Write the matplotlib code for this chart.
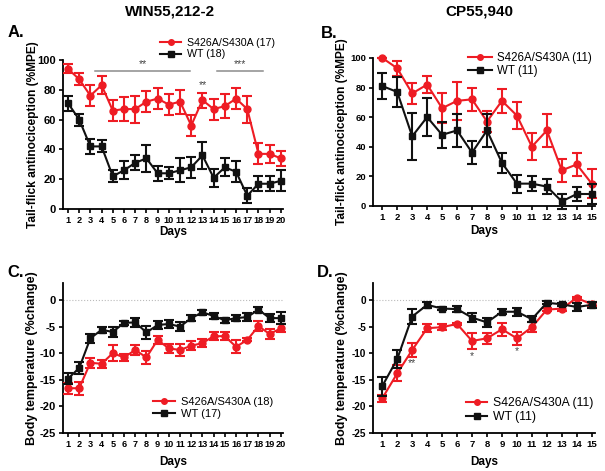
import numpy as np
import matplotlib
matplotlib.use("Agg")
import matplotlib.pyplot as plt
from matplotlib.lines import Line2D

plt.rcParams['font.family'] = ['Liberation Sans', 'DejaVu Sans']

RED = '#ee1c24'
BLACK = '#111111'

# ---- data ----
days20 = list(range(1, 21))
days15 = list(range(1, 16))

# A: WIN55,212-2 tail flick (%MPE)
a_mut = [94, 87, 76, 83, 66, 67, 67, 72, 74, 70, 72, 56, 73, 67, 69, 74, 67, 37, 37, 34]
a_mut_err = [3, 4, 7, 6, 7, 8, 9, 7, 7, 7, 8, 7, 5, 7, 8, 7, 9, 7, 6, 5]
a_wt = [71, 60, 42, 42, 22, 26, 31, 34, 24, 24, 26, 28, 36, 21, 28, 25, 9, 17, 17, 19]
a_wt_err = [5, 4, 5, 4, 4, 6, 5, 9, 5, 4, 8, 7, 9, 6, 6, 7, 5, 5, 5, 7]

# B: CP55,940 tail flick (%MPE)
b_mut = [100, 93, 76, 82, 66, 71, 72, 57, 71, 61, 40, 51, 24, 28, 15]
b_mut_err = [0, 5, 7, 6, 10, 13, 8, 7, 8, 9, 9, 11, 8, 8, 10]
b_wt = [81, 77, 47, 60, 48, 51, 36, 51, 29, 15, 15, 13, 3, 8, 8]
b_wt_err = [9, 10, 16, 13, 9, 11, 8, 11, 7, 6, 5, 5, 5, 5, 7]

# C: WIN55,212-2 body temperature (%change)
c_mut = [-16.6, -16.6, -11.8, -12.0, -10.0, -10.8, -9.4, -10.8, -7.5, -9.1,
         -9.4, -8.6, -8.1, -6.8, -6.8, -8.8, -7.5, -4.9, -6.4, -5.3]
c_mut_err = [1.0, 1.2, 0.9, 0.7, 1.5, 0.7, 0.9, 1.2, 0.8, 0.8,
             1.2, 0.8, 0.8, 0.7, 0.8, 1.2, 0.3, 1.0, 0.9, 0.7]
c_wt = [-14.8, -12.8, -7.2, -5.6, -6.0, -4.3, -4.2, -6.1, -4.7, -4.5,
        -5.0, -3.4, -2.3, -3.0, -3.8, -3.4, -3.2, -1.8, -3.4, -3.4]
c_wt_err = [1.0, 1.2, 0.8, 0.6, 1.0, 0.4, 0.8, 1.3, 0.8, 0.8,
            0.8, 0.6, 0.5, 0.5, 0.5, 0.6, 0.7, 0.5, 0.7, 1.2]

# D: CP55,940 body temperature (%change)
d_mut = [-18.5, -13.8, -9.4, -5.3, -5.1, -4.5, -7.7, -7.2, -5.5, -7.2,
         -5.1, -1.8, -1.6, 0.4, -0.8]
d_mut_err = [0.6, 1.5, 1.3, 0.8, 0.5, 0.2, 1.5, 1.0, 1.2, 1.2,
             0.9, 0.3, 0.5, 0.2, 0.4]
d_wt = [-16.2, -11.1, -3.1, -0.9, -1.6, -1.7, -3.3, -4.2, -2.2, -2.2,
        -3.6, -0.5, -0.8, -1.3, -0.9]
d_wt_err = [1.8, 1.7, 1.5, 0.5, 0.3, 0.5, 0.8, 0.8, 0.5, 0.8,
            0.6, 0.3, 0.3, 0.8, 0.5]


def draw_series(ax, x, mut, mut_err, wt, wt_err):
    ax.errorbar(x, mut, yerr=mut_err, color=RED, marker='o', ms=5,
                lw=1.5, elinewidth=1.5, capsize=3.5, capthick=1.5,
                clip_on=False, zorder=3)
    ax.errorbar(x, wt, yerr=wt_err, color=BLACK, marker='s', ms=5,
                lw=1.5, elinewidth=1.5, capsize=3.5, capthick=1.5,
                clip_on=False, zorder=4)


def add_legend(ax, labels, anchor, fs, hl=2.0):
    handles = [Line2D([], [], color=RED, marker='o', ms=4, lw=1.5),
               Line2D([], [], color=BLACK, marker='s', ms=4, lw=1.5)]
    ax.legend(handles, labels, loc='center left', bbox_to_anchor=anchor,
              frameon=False, fontsize=fs, handlelength=hl, handletextpad=0.5,
              labelspacing=0.15, borderpad=0, borderaxespad=0)


def style_axes(ax, days, xlim, ylim, yticks, xfs, yfs):
    ax.set_xlim(*xlim)
    ax.set_ylim(*ylim)
    ax.set_xticks(days)
    ax.set_xticklabels([str(d) for d in days], fontsize=xfs, fontweight='bold')
    ax.set_yticks(yticks)
    ax.set_yticklabels([str(t) for t in yticks], fontsize=yfs, fontweight='bold')
    for s in ['top', 'right']:
        ax.spines[s].set_visible(False)
    for s in ['left', 'bottom']:
        ax.spines[s].set_linewidth(1.3)
    ax.tick_params(width=1.2, length=3, pad=2)


fig = plt.figure(figsize=(6.05, 4.71), dpi=100)

axA = fig.add_axes([0.104, 0.556, 0.364, 0.317])
axB = fig.add_axes([0.617, 0.563, 0.366, 0.314])
axC = fig.add_axes([0.104, 0.081, 0.364, 0.318])
axD = fig.add_axes([0.617, 0.081, 0.366, 0.318])

# A
draw_series(axA, days20, a_mut, a_mut_err, a_wt, a_wt_err)
style_axes(axA, days20, (0.55, 20.2), (0, 100), [0, 20, 40, 60, 80, 100], 6.6, 8)
axA.plot([3.4, 11.9], [92.5, 92.5], color='#8c8c8c', lw=1.1)
axA.plot([14.3, 18.4], [92.5, 92.5], color='#8c8c8c', lw=1.1)
axA.text(7.65, 93.5, '**', ha='center', va='bottom', fontsize=7.5, color='#444444')
axA.text(16.35, 93.5, '***', ha='center', va='bottom', fontsize=7.5, color='#444444')
axA.text(13, 80, '**', ha='center', va='bottom', fontsize=7.5, color='#444444')
add_legend(axA, ['S426A/S430A (17)', 'WT (18)'], (0.44, 1.075), 7.7)
axA.set_ylabel('Tail-flick antinociception (%MPE)', fontsize=8.6, fontweight='bold')
axA.yaxis.set_label_coords(-0.108, 0.5)
axA.set_xlabel('Days', fontsize=8.5, fontweight='bold', labelpad=1)

# B
draw_series(axB, days15, b_mut, b_mut_err, b_wt, b_wt_err)
style_axes(axB, days15, (0.4, 15.2), (0, 100), [0, 20, 40, 60, 80, 100], 6.8, 6.8)
add_legend(axB, ['S426A/S430A (11)', 'WT (11)'], (0.43, 0.955), 8.3)
axB.set_ylabel('Tail-flick antinociception (%MPE)', fontsize=8.6, fontweight='bold')
axB.yaxis.set_label_coords(-0.112, 0.5)
axB.set_xlabel('Days', fontsize=8.5, fontweight='bold', labelpad=2)

# C
axC.axhline(0, color='#bbbbbb', lw=0.8, ls=':', zorder=1)
draw_series(axC, days20, c_mut, c_mut_err, c_wt, c_wt_err)
style_axes(axC, days20, (0.55, 20.2), (-25, 3.2), [-25, -20, -15, -10, -5, 0], 6.6, 8)
add_legend(axC, ['S426A/S430A (18)', 'WT (17)'], (0.41, 0.165), 8)
axC.set_ylabel('Body temperature (%change)', fontsize=9, fontweight='bold')
axC.yaxis.set_label_coords(-0.112, 0.5)
axC.set_xlabel('Days', fontsize=8.5, fontweight='bold', labelpad=5)

# D
axD.axhline(0, color='#bbbbbb', lw=0.8, ls=':', zorder=1)
draw_series(axD, days15, d_mut, d_mut_err, d_wt, d_wt_err)
style_axes(axD, days15, (0.4, 15.2), (-25, 3.2), [-25, -20, -15, -10, -5, 0], 6.8, 7.2)
axD.text(3, -12.8, '**', ha='center', va='bottom', fontsize=7.5, color='#444444')
axD.text(7, -11.4, '*', ha='center', va='bottom', fontsize=7.5, color='#444444')
axD.text(10, -10.6, '*', ha='center', va='bottom', fontsize=7.5, color='#444444')
add_legend(axD, ['S426A/S430A (11)', 'WT (11)'], (0.42, 0.15), 8.8, hl=1.7)
axD.set_ylabel('Body temperature (%change)', fontsize=9, fontweight='bold')
axD.yaxis.set_label_coords(-0.112, 0.5)
axD.set_xlabel('Days', fontsize=8.5, fontweight='bold', labelpad=5)

# titles and panel letters
fig.text(0.281, 0.975, 'WIN55,212-2', ha='center', va='center', fontsize=11, fontweight='bold')
fig.text(0.793, 0.975, 'CP55,940', ha='center', va='center', fontsize=11, fontweight='bold')
fig.text(0.012, 0.93, 'A.', ha='left', va='center', fontsize=12, fontweight='bold')
fig.text(0.530, 0.928, 'B.', ha='left', va='center', fontsize=12, fontweight='bold')
fig.text(0.012, 0.422, 'C.', ha='left', va='center', fontsize=12, fontweight='bold')
fig.text(0.524, 0.422, 'D.', ha='left', va='center', fontsize=12, fontweight='bold')

fig.savefig('out.png', dpi=100, facecolor='white')
